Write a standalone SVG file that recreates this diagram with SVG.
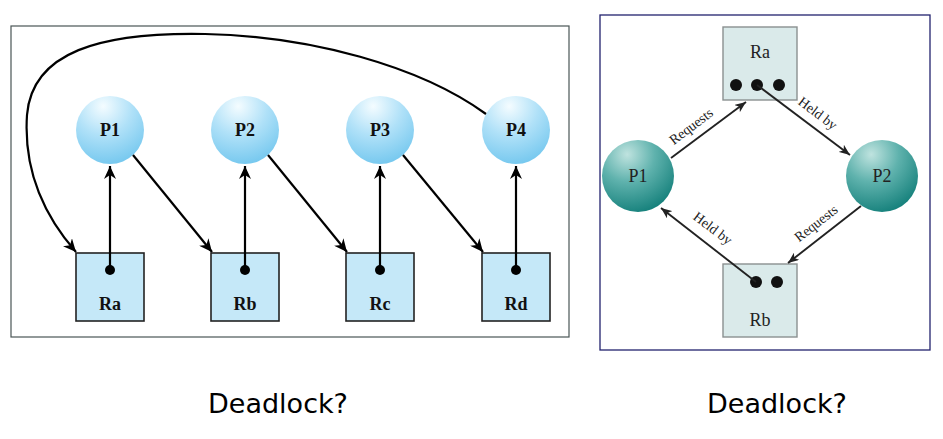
<svg xmlns="http://www.w3.org/2000/svg" width="943" height="439" viewBox="0 0 943 439">
<defs>
<radialGradient id="gBlue" cx="0.4" cy="0.15" r="0.85">
<stop offset="0" stop-color="#f4fcff"/>
<stop offset="0.5" stop-color="#b0e1f8"/>
<stop offset="1" stop-color="#78c9ef"/>
</radialGradient>
<radialGradient id="gTeal" cx="0.35" cy="0.2" r="0.85">
<stop offset="0" stop-color="#bfe3df"/>
<stop offset="0.45" stop-color="#5fb2ad"/>
<stop offset="1" stop-color="#137f7a"/>
</radialGradient>
<marker id="ah" markerUnits="userSpaceOnUse" markerWidth="14" markerHeight="12" refX="13" refY="6" orient="auto">
<path d="M0,0 L13,6 L0,12 L4,6 Z" fill="#000"/>
</marker>
<marker id="ah2" markerUnits="userSpaceOnUse" markerWidth="11" markerHeight="9" refX="11" refY="4.5" orient="auto">
<path d="M0,0 L11,4.5 L0,9 L3,4.5 Z" fill="#222"/>
</marker>
<style>
.frameL{fill:#fff;stroke:#4a5555;stroke-width:1.2}
.frameR{fill:#fff;stroke:#23236e;stroke-width:1.3}
.pL{fill:url(#gBlue);stroke:none}
.rL{fill:#c5e8f8;stroke:#222;stroke-width:1.6}
.tL{font-family:"Liberation Serif",serif;font-weight:bold;font-size:18px;fill:#111;text-anchor:middle}
.eL{stroke:#000;stroke-width:2.2;fill:none}
.dotL{fill:#000}
.pR{fill:url(#gTeal);stroke:none}
.rR{fill:#daeaea;stroke:#8a9090;stroke-width:1.4}
.tR{font-family:"Liberation Serif",serif;font-size:18px;fill:#222;text-anchor:middle}
.lab{font-family:"Liberation Serif",serif;font-size:14px;fill:#222;text-anchor:middle}
.eR{stroke:#222;stroke-width:1.9;fill:none}
.dotR{fill:#111}
.cap{font-family:"DejaVu Sans",sans-serif;font-size:27px;fill:#000;text-anchor:middle}
</style>
</defs>
<rect width="943" height="439" fill="#fff"/>
<rect class="frameL" x="11" y="26" width="558" height="311"/>
<rect class="frameR" x="600" y="15" width="330" height="335"/>

<g id="P1"><circle class="pL" cx="110" cy="130" r="34"/><text class="tL" x="110" y="136">P1</text></g>
<g id="P2"><circle class="pL" cx="245" cy="130" r="34"/><text class="tL" x="245" y="136">P2</text></g>
<g id="P3"><circle class="pL" cx="380" cy="130" r="34"/><text class="tL" x="380" y="136">P3</text></g>
<g id="P4"><circle class="pL" cx="516" cy="130" r="34"/><text class="tL" x="516" y="136">P4</text></g>

<g id="Ra"><rect class="rL" x="76" y="253" width="68" height="68"/><circle class="dotL" cx="110" cy="270" r="5"/><text class="tL" x="110" y="310">Ra</text></g>
<g id="Rb"><rect class="rL" x="211" y="253" width="68" height="68"/><circle class="dotL" cx="245" cy="270" r="5"/><text class="tL" x="245" y="310">Rb</text></g>
<g id="Rc"><rect class="rL" x="346" y="253" width="68" height="68"/><circle class="dotL" cx="380" cy="270" r="5"/><text class="tL" x="380" y="310">Rc</text></g>
<g id="Rd"><rect class="rL" x="482" y="253" width="68" height="68"/><circle class="dotL" cx="516" cy="270" r="5"/><text class="tL" x="516" y="310">Rd</text></g>

<g id="edgesL">
<line class="eL" x1="110" y1="270" x2="110" y2="166" marker-end="url(#ah)"/>
<line class="eL" x1="245" y1="270" x2="245" y2="166" marker-end="url(#ah)"/>
<line class="eL" x1="380" y1="270" x2="380" y2="166" marker-end="url(#ah)"/>
<line class="eL" x1="516" y1="270" x2="516" y2="166" marker-end="url(#ah)"/>
<line class="eL" x1="133" y1="155" x2="212" y2="252" marker-end="url(#ah)"/>
<line class="eL" x1="268" y1="155" x2="347" y2="252" marker-end="url(#ah)"/>
<line class="eL" x1="403" y1="155" x2="483" y2="252" marker-end="url(#ah)"/>
<path class="eL" d="M486,114 C420,66 310,36 205,34 C100,32 32,52 27,115 C23,175 48,220 76,252" marker-end="url(#ah)"/>
</g>

<g id="RRa"><rect class="rR" x="723" y="27" width="74" height="73"/><text class="tR" x="760" y="58">Ra</text>
<circle class="dotR" cx="736" cy="85" r="6"/><circle class="dotR" cx="757" cy="85" r="6"/><circle class="dotR" cx="779" cy="85" r="6"/></g>
<g id="RRb"><rect class="rR" x="723" y="264" width="74" height="73"/><text class="tR" x="760" y="326">Rb</text>
<circle class="dotR" cx="756" cy="282" r="6"/><circle class="dotR" cx="777" cy="282" r="6"/></g>
<g id="RP1"><circle class="pR" cx="638" cy="176" r="36"/><text class="tR" x="638" y="182">P1</text></g>
<g id="RP2"><circle class="pR" cx="882" cy="176" r="36"/><text class="tR" x="882" y="182">P2</text></g>

<g id="edgesR">
<line class="eR" x1="671" y1="158" x2="746" y2="102" marker-end="url(#ah2)"/>
<line class="eR" x1="757" y1="85" x2="850" y2="155" marker-end="url(#ah2)"/>
<line class="eR" x1="861" y1="206" x2="788" y2="263" marker-end="url(#ah2)"/>
<line class="eR" x1="756" y1="282" x2="661" y2="208" marker-end="url(#ah2)"/>
<text class="lab" transform="translate(694,130) rotate(-37)">Requests</text>
<text class="lab" transform="translate(815,117) rotate(37)">Held by</text>
<text class="lab" transform="translate(819,227) rotate(-38)">Requests</text>
<text class="lab" transform="translate(710,232) rotate(37)">Held by</text>
</g>

<text class="cap" x="278" y="413">Deadlock?</text>
<text class="cap" x="777" y="413">Deadlock?</text>
</svg>
